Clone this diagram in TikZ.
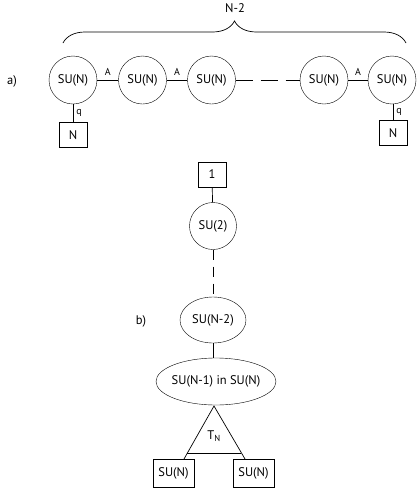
\documentclass[tikz,border=0pt]{standalone}
\usepackage{fontspec}
\setmainfont{PT Sans}
\usetikzlibrary{calc,decorations.pathreplacing,shapes.geometric}
\begin{document}
\begin{tikzpicture}[x=1pt,y=-1pt,
  every node/.style={font=\fontsize{12.5}{14}\selectfont},
  grp/.style={draw,circle,minimum size=48,inner sep=0},
  ell/.style={draw,ellipse,inner ysep=0,inner xsep=-12pt},
  sq/.style={draw,rectangle,minimum width=28,minimum height=25,inner sep=0},
  wsq/.style={draw,rectangle,minimum width=41,minimum height=28,inner sep=0},
  lbl/.style={font=\fontsize{10}{11}\selectfont,inner sep=1},
  link/.style={line width=0.7pt},
  longdash/.style={line width=0.7pt,dash pattern=on 17pt off 8pt},
  vdash/.style={line width=0.7pt,dash pattern=on 10pt off 7pt}]
\useasboundingbox (0,0) rectangle (416,488);
% part a
\node (la) at (12,81) {a)};
\node[grp] (c1) at (73,80) {SU(N)};
\node[grp] (c2) at (142.5,80) {SU(N)};
\node[grp] (c3) at (211.5,80) {SU(N)};
\node[grp] (c4) at (324,80) {SU(N)};
\node[grp] (c5) at (392,80) {SU(N)};
\node[sq] (n1) at (73,135) {N};
\node[sq] (n2) at (393,133) {N};
\draw[link] (c1) -- node[lbl,above=3pt] {A} (c2);
\draw[link] (c2) -- node[lbl,above=3pt] {A} (c3);
\draw[longdash] (c3) -- (c4);
\draw[link] (c4) -- node[lbl,above=3pt] {A} (c5);
\draw[link] (c1) -- node[lbl,right=2pt] {q} (n1);
\draw[link] (c5.south -| n2) -- node[lbl,right=2pt] {q} (n2);
\coordinate (bl) at (63,43);
\coordinate (br) at (406,43);
\draw[link,decorate,decoration={brace,amplitude=22pt}] (bl) -- (br);
\node (nm) at (235,8) {N-2};
% part b
\node (lb) at (141,321) {b)};
\node[sq] (one) at (212,174.5) {1};
\node[grp,minimum size=47] (s2) at (213,226) {SU(2)};
\node[ell,minimum width=66,minimum height=46] (sn2) at (213,320) {SU(N-2)};
\node[ell,minimum width=120,minimum height=47] (sn1) at (216,381.5) {SU(N-1) in SU(N)};
\draw[link] (one) -- (s2);
\draw[vdash] (s2) -- (sn2);
\draw[link] (sn2) -- (sn2.south |- sn1.north);
\node[wsq] (b1) at (173.5,473) {SU(N)};
\node[wsq] (b2) at (253.5,473) {SU(N)};
\coordinate (ap) at (214,406);
\coordinate (tl) at (184,459);
\coordinate (tr) at (245,459);
\coordinate (bsl) at ($(ap)!0.887!(tl)$);
\coordinate (bsr) at ($(ap)!0.887!(tr)$);
\draw[link] (tl) -- (ap) -- (tr);
\draw[link] (bsl) -- (bsr);
\node (tn) at (214,436) {T\textsubscript{N}};
\end{tikzpicture}
\end{document}
